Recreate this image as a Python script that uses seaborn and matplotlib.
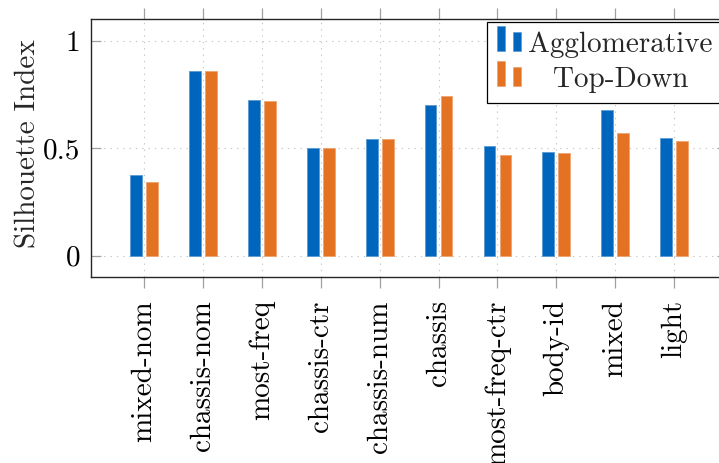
import matplotlib
matplotlib.use("Agg")
import matplotlib.pyplot as plt
import numpy as np
import pandas as pd
import seaborn as sns
from matplotlib.colors import to_rgb
from matplotlib.legend_handler import HandlerBase
from matplotlib.patches import Patch, Rectangle

# Silhouette index per feature set for the two clustering strategies
features = ["mixed-nom", "chassis-nom", "most-freq", "chassis-ctr", "chassis-num",
            "chassis", "most-freq-ctr", "body-id", "mixed", "light"]
agglomerative = [0.376, 0.858, 0.726, 0.500, 0.544, 0.700, 0.510, 0.482, 0.680, 0.549]
top_down = [0.343, 0.858, 0.719, 0.500, 0.544, 0.742, 0.467, 0.476, 0.573, 0.533]
methods = ["Agglomerative", "Top-Down"]
colors = ["#0065BD", "#E37222"]
yticks = [0, 0.5, 1]
ytick_labels = ["0", "0.5", "1"]

df = pd.DataFrame({
    "feature": features * 2,
    "method": [methods[0]] * len(features) + [methods[1]] * len(features),
    "value": agglomerative + top_down,
})

sns.set_theme(style="white")
plt.rcParams["font.family"] = ["cmr10", "DejaVu Serif"]
plt.rcParams["axes.formatter.use_mathtext"] = True
FS = 21
GRID_COLOR = "#c4c4c4"
TICK_COLOR = "#a0a0a0"

W, H = 719, 463
fig = plt.figure(figsize=(W / 100, H / 100), dpi=100)
left, right, top, bottom = 91.3, 727.0, 19.3, 277.3
ax = fig.add_axes([left / W, (H - bottom) / H, (right - left) / W, (bottom - top) / H])

sns.barplot(data=df, x="feature", y="value", hue="method", order=features,
            hue_order=methods, palette=colors, saturation=1, width=0.544, gap=0.265,
            errorbar=None, legend=False, ax=ax)


def lighten(c, amount=0.35):
    r, g, b = to_rgb(c)
    return (r + (1 - r) * amount, g + (1 - g) * amount, b + (1 - b) * amount)


for bar in ax.patches:
    bar.set_edgecolor(lighten(bar.get_facecolor()))
    bar.set_linewidth(0.6)

ax.set_xlim(-0.9, len(features) - 1 + 0.9)
ax.set_ylim(-0.1, 1.1)
ax.set_yticks(yticks, ytick_labels)
ax.set_xticks(range(len(features)), features, rotation=90)
ax.set_xlabel("")
ax.set_ylabel("Silhouette Index", fontsize=FS)
ax.yaxis.set_label_coords(-0.079, 0.52)

ax.grid(True, axis="both", linestyle=(0, (1.2, 4.5)), color=GRID_COLOR, linewidth=0.8)
ax.set_axisbelow(True)

ax.tick_params(axis="x", which="major", direction="out", length=8, width=0.9,
               color=TICK_COLOR, top=True, bottom=True, labelsize=FS, pad=8.5,
               labelcolor="black")
ax.tick_params(axis="y", which="major", direction="in", length=7, width=0.9,
               color=TICK_COLOR, left=True, right=True, labelsize=FS, pad=8,
               labelcolor="black")
for sp in ax.spines.values():
    sp.set_color("#262626")
    sp.set_linewidth(1.0)


class HandlerBarPair(HandlerBase):
    """Legend key made of two small bars of unequal height."""

    def create_artists(self, legend, orig_handle, xdescent, ydescent, width, height,
                       fontsize, trans):
        color = orig_handle.get_facecolor()
        bw = 0.29 * fontsize
        gap = 0.27 * fontsize
        y0 = 0.05 * fontsize - ydescent
        r1 = Rectangle((-xdescent, y0), bw, 0.84 * fontsize, facecolor=color,
                       edgecolor=lighten(color), linewidth=0.5, transform=trans)
        r2 = Rectangle((-xdescent + bw + gap, y0), bw, 0.655 * fontsize,
                       facecolor=color, edgecolor=lighten(color), linewidth=0.5,
                       transform=trans)
        return [r1, r2]


handles = [Patch(facecolor=c) for c in colors]
leg = ax.legend(handles, methods, handler_map={Patch: HandlerBarPair()},
                loc="upper right", bbox_to_anchor=(0.9921, 0.9884), borderaxespad=0,
                fontsize=FS, handlelength=0.86, handletextpad=0.22, borderpad=0.32,
                labelspacing=0.3, frameon=True, fancybox=False, framealpha=1,
                edgecolor="black")
leg.get_frame().set_linewidth(0.9)

# centre the shorter label under the longer one
fig.canvas.draw()
renderer = fig.canvas.get_renderer()
widths = [t.get_window_extent(renderer).width for t in leg.get_texts()]
rows = [row for col in leg._legend_handle_box.get_children() for row in col.get_children()]
wmax = max(widths)
for row, w in zip(rows, widths):
    row.sep += (wmax - w) / 2 * 72 / fig.dpi

fig.savefig("out.png", dpi=100)
